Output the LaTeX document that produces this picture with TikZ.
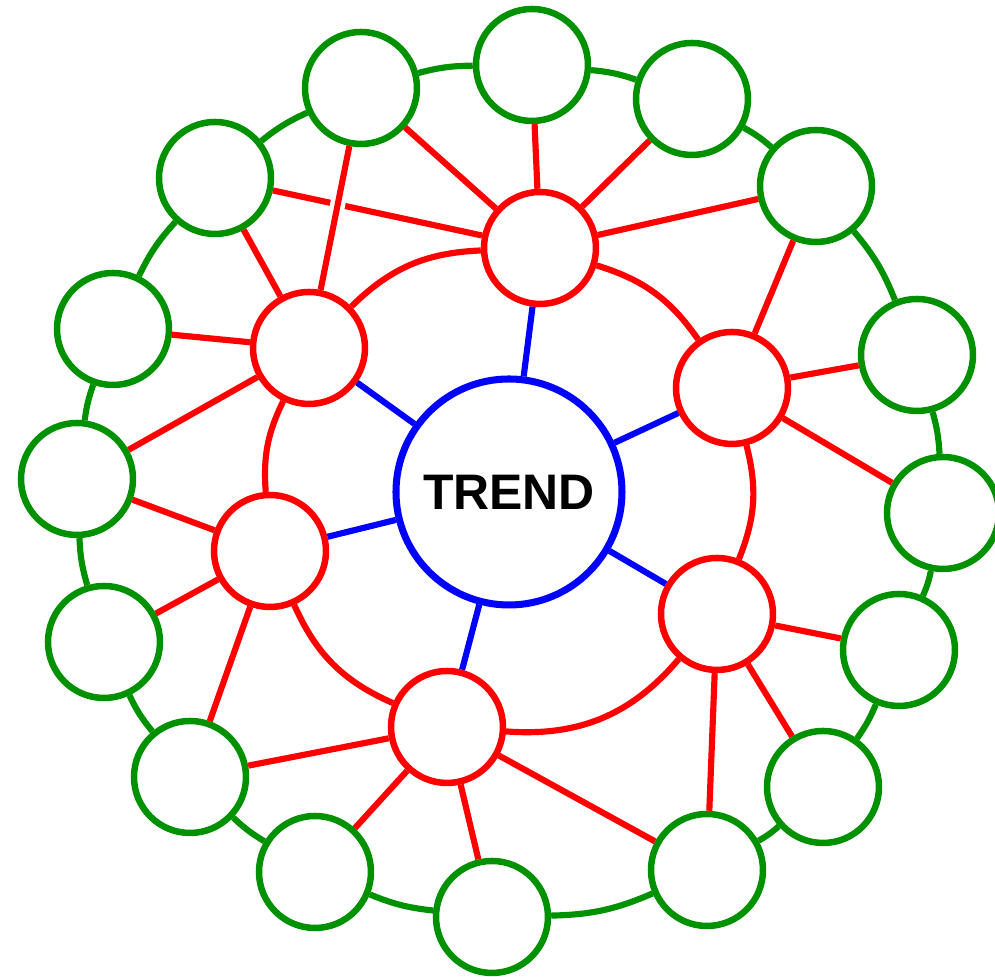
\documentclass[tikz,border=0pt]{standalone}
\usepackage{fontspec}
\setsansfont{Liberation Sans}
\definecolor{ringgreen}{RGB}{0,145,0}

\begin{document}
\begin{tikzpicture}[font=\sffamily]
    % Define styles
    \tikzset{
        hubnode/.style={circle, draw=blue, line width=2pt, minimum size=2.26cm, inner sep=0pt, font=\sffamily\bfseries\fontsize{14.2}{17}\selectfont},
        topic/.style={circle, draw=red, line width=1.85pt, minimum size=1.12cm},
        subtopic/.style={circle, draw=ringgreen, line width=1.85pt, minimum size=1.12cm},
        spoke/.style={draw=blue, line width=1.75pt},
        redlink/.style={draw=red, line width=1.75pt},
        greenlink/.style={draw=ringgreen, line width=1.75pt},
    }
    \useasboundingbox (-5.09,-4.85) rectangle (4.86,4.92);

    % Center
    \node[hubnode] (trend) at (0,0) {TREND};

    % Inner ring
    \node[topic] (r1) at (0.31,2.44) {};
    \node[topic] (r2) at (2.23,1.04) {};
    \node[topic] (r3) at (2.08,-1.22) {};
    \node[topic] (r4) at (-0.62,-2.35) {};
    \node[topic] (r5) at (-2.39,-0.59) {};
    \node[topic] (r6) at (-2.00,1.44) {};

    % Outer ring
    \node[subtopic] (g1) at (0.23,4.27) {};
    \node[subtopic] (g2) at (1.83,3.93) {};
    \node[subtopic] (g3) at (3.07,3.06) {};
    \node[subtopic] (g4) at (4.08,1.37) {};
    \node[subtopic] (g5) at (4.34,-0.21) {};
    \node[subtopic] (g6) at (3.90,-1.58) {};
    \node[subtopic] (g7) at (3.14,-2.95) {};
    \node[subtopic] (g8) at (1.98,-3.78) {};
    \node[subtopic] (g9) at (-0.17,-4.25) {};
    \node[subtopic] (g10) at (-1.94,-3.80) {};
    \node[subtopic] (g11) at (-3.19,-2.85) {};
    \node[subtopic] (g12) at (-4.05,-1.50) {};
    \node[subtopic] (g13) at (-4.32,0.13) {};
    \node[subtopic] (g14) at (-3.96,1.63) {};
    \node[subtopic] (g15) at (-2.94,3.14) {};
    \node[subtopic] (g16) at (-1.48,4.04) {};

    % Spokes
    \draw[spoke] (trend) -- (r1);
    \draw[spoke] (trend) -- (r2);
    \draw[spoke] (trend) -- (r3);
    \draw[spoke] (trend) -- (r4);
    \draw[spoke] (trend) -- (r5);
    \draw[spoke] (trend) -- (r6);

    % Inner ring links
    \draw[redlink] (r1) to[bend left=19] (r2);
    \draw[redlink] (r2) to[bend left=18] (r3);
    \draw[redlink] (r3) to[bend left=27] (r4);
    \draw[redlink] (r4) to[bend left=21] (r5);
    \draw[redlink] (r5) to[bend left=15] (r6);
    \draw[redlink] (r6) to[bend left=21] (r1);

    % Outer ring links
    \draw[greenlink] (g1) to[bend left=7] (g2);
    \draw[greenlink] (g2) to[bend left=6] (g3);
    \draw[greenlink] (g3) to[bend left=9] (g4);
    \draw[greenlink] (g4) to[bend left=6] (g5);
    \draw[greenlink] (g5) to[bend left=6] (g6);
    \draw[greenlink] (g6) to[bend left=6] (g7);
    \draw[greenlink] (g7) to[bend left=6] (g8);
    \draw[greenlink] (g8) to[bend left=11] (g9);
    \draw[greenlink] (g9) to[bend left=8] (g10);
    \draw[greenlink] (g10) to[bend left=6] (g11);
    \draw[greenlink] (g11) to[bend left=7] (g12);
    \draw[greenlink] (g12) to[bend left=7] (g13);
    \draw[greenlink] (g13) to[bend left=6] (g14);
    \draw[greenlink] (g14) to[bend left=8] (g15);
    \draw[greenlink] (g15) to[bend left=7] (g16);
    \draw[greenlink] (g16) to[bend left=7] (g1);

    % Links from inner to outer ring
    \draw[redlink] (r1) -- (g1);
    \draw[redlink] (r1) -- (g2);
    \draw[redlink] (r1) -- (g3);
    \draw[redlink] (r1) -- (g15);
    \draw[redlink] (r1) -- (g16);
    \draw[redlink] (r2) -- (g3);
    \draw[redlink] (r2) -- (g4);
    \draw[redlink] (r2) -- (g5);
    \draw[redlink] (r3) -- (g6);
    \draw[redlink] (r3) -- (g7);
    \draw[redlink] (r3) -- (g8);
    \draw[redlink] (r4) -- (g8);
    \draw[redlink] (r4) -- (g9);
    \draw[redlink] (r4) -- (g10);
    \draw[redlink] (r4) -- (g11);
    \draw[redlink] (r5) -- (g11);
    \draw[redlink] (r5) -- (g12);
    \draw[redlink] (r5) -- (g13);
    \draw[redlink] (r6) -- (g13);
    \draw[redlink] (r6) -- (g14);
    \draw[redlink] (r6) -- (g15);
    % gap where it crosses r1--g15
    \draw[white, line width=4.3pt, shorten <=8pt, shorten >=8pt] (r6) -- (g16);
    \draw[redlink] (r6) -- (g16);
\end{tikzpicture}
\end{document}
